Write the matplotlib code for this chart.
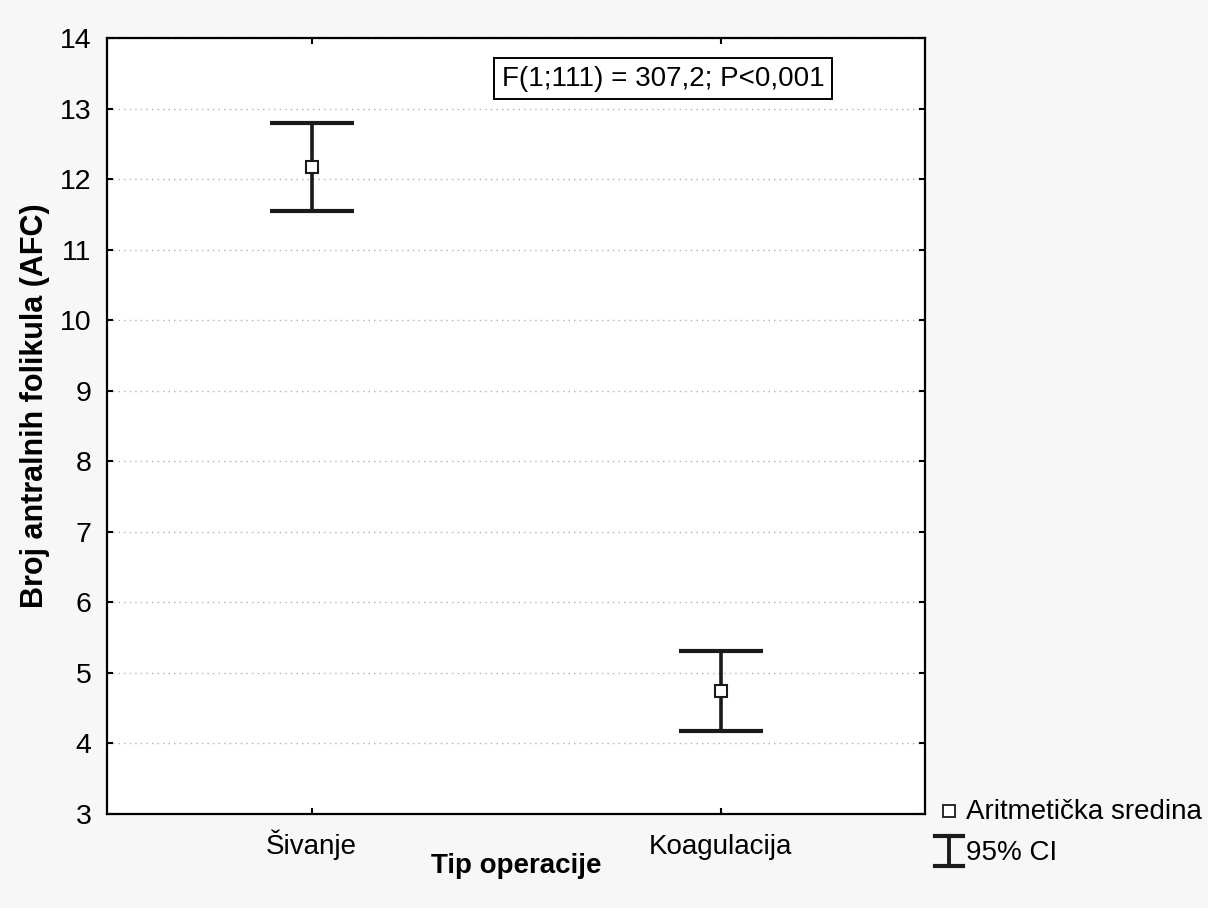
import matplotlib.pyplot as plt
from matplotlib.lines import Line2D

groups = ["Šivanje", "Koagulacija"]
means = [12.17, 4.75]
ci_low = [11.55, 4.17]
ci_high = [12.80, 5.31]
stat_text = "F(1;111) = 307,2; P<0,001"

plt.rcParams['font.family'] = ['Liberation Sans', 'DejaVu Sans']

fig = plt.figure(figsize=(12.08, 9.08), dpi=100, facecolor='#f7f7f7')
ax = fig.add_axes([107 / 1208, 1 - 814 / 908, (925 - 107) / 1208, (814 - 38) / 908])
ax.set_facecolor('white')

x = list(range(len(groups)))
err = [[m - lo for m, lo in zip(means, ci_low)], [hi - m for m, hi in zip(means, ci_high)]]
ax.errorbar(x, means, yerr=err, fmt='none', ecolor='#1a1a1a', elinewidth=2.6,
            capsize=30, capthick=3.0, zorder=3)
ax.plot(x, means, linestyle='none', marker='s', markersize=8, markerfacecolor='white',
        markeredgecolor='#1a1a1a', markeredgewidth=1.5, zorder=4)

ax.set_xlim(-0.5, 1.5)
ax.set_ylim(3, 14)
ax.set_yticks(range(3, 15))
ax.set_xticks(x)
ax.set_xticklabels(groups, va='baseline')
ax.tick_params(direction='in', length=4, width=1.5, top=True, right=True, colors='black')
ax.tick_params(axis='y', labelsize=20.5, pad=11)
ax.tick_params(axis='x', labelsize=20, pad=29)
ax.grid(axis='y', linestyle=(0, (1, 3)), color='#b0b0b0', linewidth=1)
for s in ax.spines.values():
    s.set_linewidth(1.6)

ax.set_xlabel("Tip operacije", fontsize=20, fontweight='bold')
ax.xaxis.set_label_coords(0.5, (814 - 873) / 776)
ax.xaxis.label.set_va('baseline')
ax.set_ylabel("Broj antralnih folikula (AFC)", fontsize=22, fontweight='bold')
ax.yaxis.set_label_coords(-(107 - 35) / 818, (814 - 406) / 776)
ax.yaxis.label.set_va('center')

ax.text(0.859, 13.42, stat_text, fontsize=20, ha='center', va='center',
        bbox=dict(boxstyle='square,pad=0.27', facecolor='white', edgecolor='black', linewidth=1.4))

# legend drawn in figure coordinates
W, H = 1208, 908
fig.add_artist(Line2D([949 / W], [1 - 811 / H], linestyle='none', marker='s', markersize=8.5,
                      markerfacecolor='white', markeredgecolor='#1a1a1a', markeredgewidth=1.3))
fig.text(966 / W, 1 - 812 / H, "Aritmetička sredina", fontsize=20, ha='left', va='center')

cx, top_y, bot_y = 949 / W, 1 - 836 / H, 1 - 866 / H
hw = 14 / W
fig.add_artist(Line2D([cx, cx], [bot_y, top_y], color='#1a1a1a', linewidth=2.8))
fig.add_artist(Line2D([cx - hw, cx + hw], [top_y, top_y], color='#1a1a1a', linewidth=3.0))
fig.add_artist(Line2D([cx - hw, cx + hw], [bot_y, bot_y], color='#1a1a1a', linewidth=3.0))
fig.text(966 / W, 1 - 853 / H, "95% CI", fontsize=20, ha='left', va='center')

fig.savefig("out.png", dpi=100, facecolor=fig.get_facecolor())
